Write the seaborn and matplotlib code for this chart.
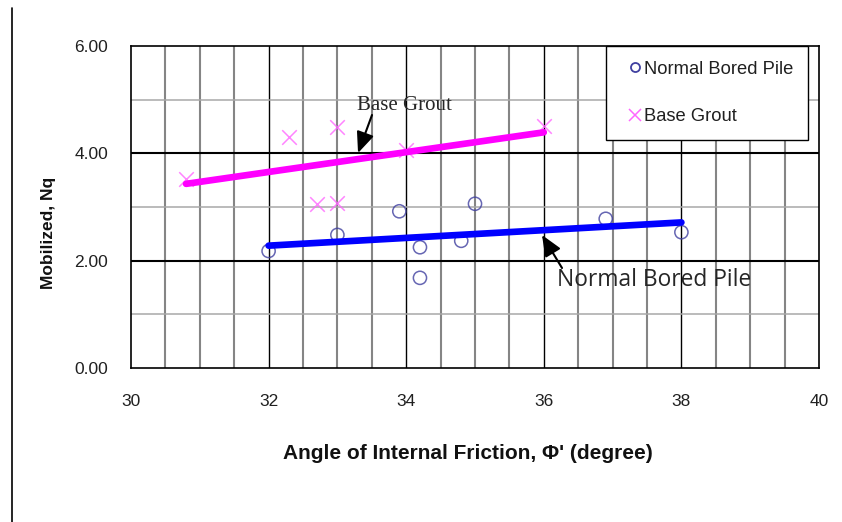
import matplotlib
matplotlib.use("Agg")
import matplotlib.pyplot as plt
import seaborn as sns
import numpy as np
import pandas as pd
from matplotlib.lines import Line2D

# Data
normal_phi = [32.0, 33.0, 33.9, 34.2, 34.2, 34.8, 35.0, 36.9, 38.0]
normal_nq = [2.18, 2.48, 2.92, 2.25, 1.68, 2.37, 3.06, 2.78, 2.53]
grout_phi = [30.8, 32.3, 32.7, 33.0, 33.0, 34.0, 36.0]
grout_nq = [3.52, 4.30, 3.06, 3.07, 4.49, 4.06, 4.51]
x_ticks = [30, 32, 34, 36, 38, 40]
y_ticks = [0.0, 2.0, 4.0, 6.0]

sns.set_style("white")
plt.rcParams['font.family'] = ['Liberation Sans', 'DejaVu Sans']

df_n = pd.DataFrame({"phi": normal_phi, "nq": normal_nq})
df_g = pd.DataFrame({"phi": grout_phi, "nq": grout_nq})

fig = plt.figure(figsize=(8.42, 5.22), dpi=100)
ax = fig.add_axes([131/842, 1-368/522, (819-131)/842, (368-46)/522])

# grid
for xv in np.arange(30.5, 40, 0.5):
    if xv in (32, 34, 36, 38):
        ax.axvline(xv, color='black', lw=1.0, zorder=1)
    else:
        ax.axvline(xv, color='#858585', lw=1.5, zorder=1)
for yv in [1, 3, 5]:
    ax.axhline(yv, color='#a8a8a8', lw=1.1, zorder=1)
for yv in [2, 4]:
    ax.axhline(yv, color='black', lw=1.5, zorder=1)

sns.regplot(data=df_n, x="phi", y="nq", ci=None, ax=ax, marker='o',
            scatter_kws=dict(s=90, facecolors='none', edgecolors='#4040a0', linewidths=1.1, zorder=3),
            line_kws=dict(color='#0000ff', lw=4.8, solid_capstyle='round', zorder=4))
sns.regplot(data=df_g, x="phi", y="nq", ci=None, ax=ax, marker='x',
            scatter_kws=dict(s=110, color='#ff66ff', linewidths=1.1, zorder=3),
            line_kws=dict(color='#ff00ff', lw=4.8, solid_capstyle='round', zorder=4))

ax.set_xlim(30, 40)
ax.set_ylim(0, 6)
ax.set_xticks(x_ticks)
ax.set_xticklabels([str(v) for v in x_ticks])
ax.set_yticks(y_ticks)
ax.set_yticklabels([f"{v:.2f}" for v in y_ticks])
ax.tick_params(axis='both', length=0, labelsize=12.5, colors='#202020')
ax.tick_params(axis='y', pad=16.5)
ax.tick_params(axis='x', pad=19)
for s in ax.spines.values():
    s.set_color('black')
    s.set_linewidth(1.2)
    s.set_visible(True)

ax.set_xlabel("Angle of Internal Friction, \u03a6' (degree)", fontsize=15, fontweight='bold',
              color='#111111')
ax.xaxis.set_label_coords((467.5-131)/688, (368-444)/322)
ax.set_ylabel("Mobilized, Nq", fontsize=12.5, fontweight='bold', color='#111111')
ax.yaxis.set_label_coords((56-131)/688, (368-233)/322)

# annotations
arrow_kw = dict(arrowstyle='-|>,head_length=0.85,head_width=0.36', color='black', lw=1.5,
                mutation_scale=15, shrinkA=0, shrinkB=0)
ax.annotate("", xy=(33.30, 4.006), xytext=(33.503, 4.714), arrowprops=arrow_kw, zorder=6)
ax.text(33.98, 4.90, "Base Grout", fontsize=15, family='Liberation Serif',
        ha='center', va='center', zorder=6)
ax.annotate("", xy=(35.974, 2.478), xytext=(36.265, 1.863), arrowprops=arrow_kw, zorder=6)
ax.text(36.19, 1.64, "Normal Bored Pile", fontsize=16.4, family='Open Sans',
        ha='left', va='center', zorder=6)

handles = [Line2D([], [], ls='none', marker='o', mfc='none', mec='#4040a0', ms=6.5, mew=1.3),
           Line2D([], [], ls='none', marker='x', color='#ff66ff', ms=8, mew=1.1)]
leg = ax.legend(handles, ["Normal Bored Pile", "Base Grout"], loc='upper left',
                bbox_to_anchor=((606-131)/688, 1.0, 202/688, 0.0), mode='expand',
                borderaxespad=0, prop=dict(size=13.2),
                frameon=True, fancybox=False, edgecolor='black', framealpha=1,
                handlelength=1.6, handletextpad=-0.3, labelspacing=1.68,
                borderpad=0.8)
for t in leg.get_texts():
    t.set_color('#202020')
leg.get_frame().set_linewidth(1.0)
leg.set_zorder(10)

fig.add_artist(Line2D([12/842, 12/842], [0, 1-8/522], color='black', lw=1.2))

fig.savefig("out.png", dpi=100, facecolor='white')
